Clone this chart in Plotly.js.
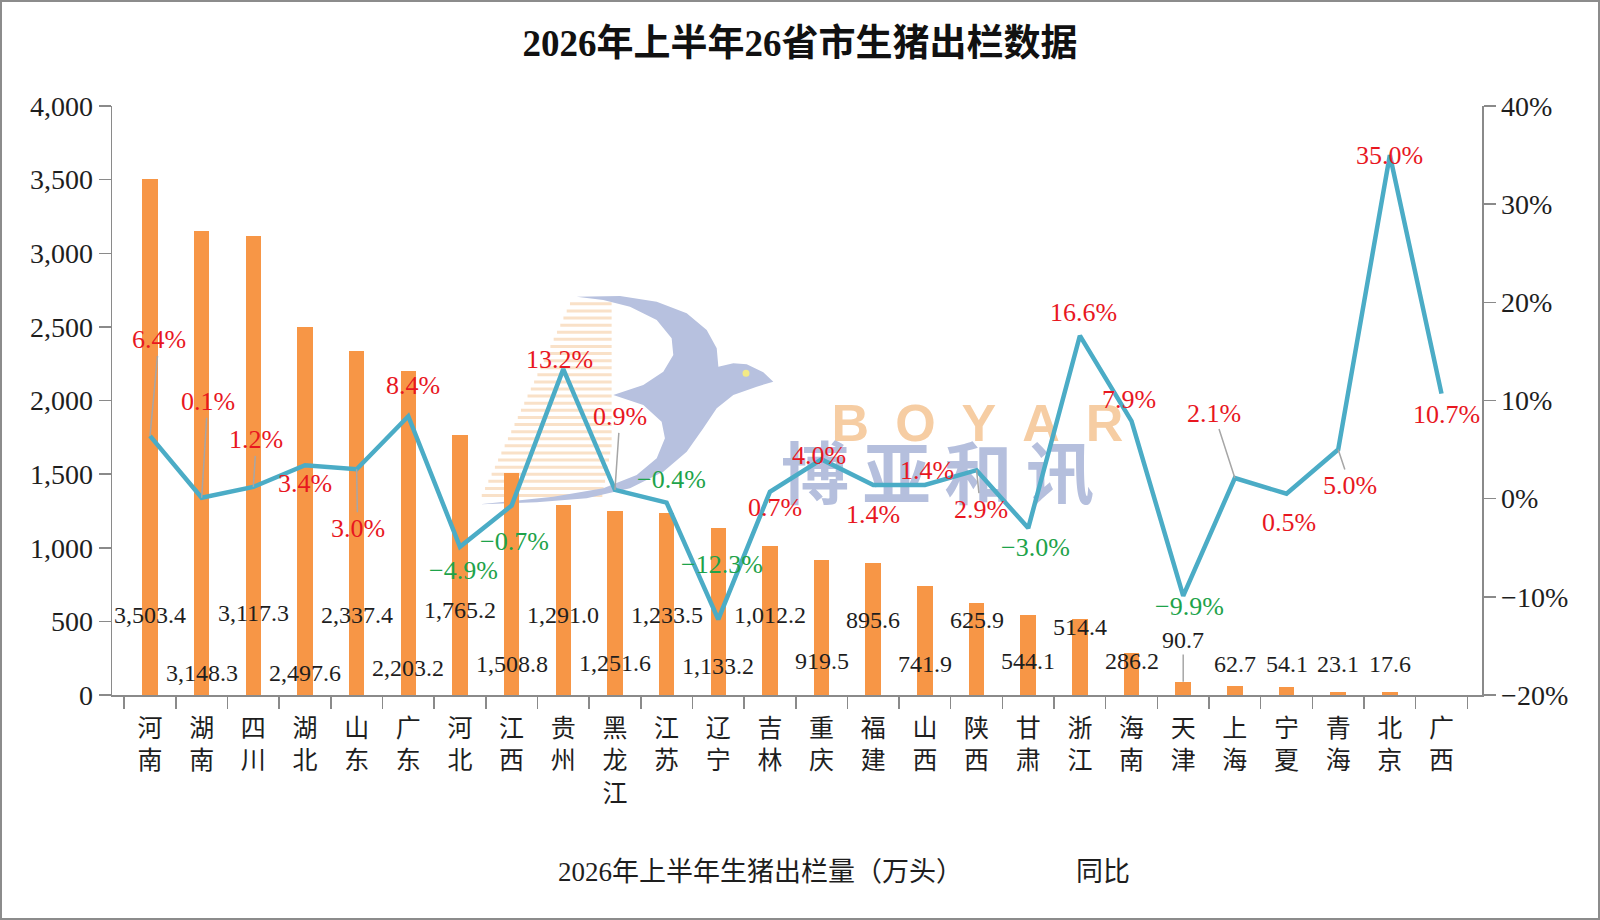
<!DOCTYPE html>
<html>
<head>
<meta charset="utf-8">
<script src="https://cdn.plot.ly/plotly-3.0.1.min.js"></script>
<style>
    html, body { margin: 0; padding: 0; background: #ffffff; }
    #chart {
        width: 1600px;
        height: 920px;
        box-sizing: border-box;
        border: 2px solid #8c8c8c;
    }
</style>
</head>
<body>
<div id="chart"></div>
<script>
// Data
const provinces = ['河南', '湖南', '四川', '湖北', '山东', '广东', '河北', '江西', '贵州', '黑龙江',
    '江苏', '辽宁', '吉林', '重庆', '福建', '山西', '陕西', '甘肃', '浙江', '海南',
    '天津', '上海', '宁夏', '青海', '北京', '广西'];

// 2026年上半年生猪出栏量（万头）, 广西 has no value
const hogOutput = [3503.4, 3148.3, 3117.3, 2497.6, 2337.4, 2203.2, 1765.2, 1508.8, 1291.0, 1251.6,
    1233.5, 1133.2, 1012.2, 919.5, 895.6, 741.9, 625.9, 544.1, 514.4, 286.2,
    90.7, 62.7, 54.1, 23.1, 17.6, null];

// 同比 (%)
const yoyChange = [6.4, 0.1, 1.2, 3.4, 3.0, 8.4, -4.9, -0.7, 13.2, 0.9,
    -0.4, -12.3, 0.7, 4.0, 1.4, 1.4, 2.9, -3.0, 16.6, 7.9,
    -9.9, 2.1, 0.5, 5.0, 35.0, 10.7];

const titleText = '2026年上半年26省市生猪出栏数据';
const barName = '2026年上半年生猪出栏量（万头）';
const lineName = '同比';

// Label placement (like the hand-moved labels of the original)
const barLabelY = [543, 149, 557, 149, 543, 183, 577, 210, 543, 217, 543, 197, 543, 231, 509, 210,
    509, 231, 462, 231, 373, 210, 210, 210, 210, null];
const barLeaders = [20];
const pctLabelOffset = [[9, -96], [6, -96], [3, -47], [0, 18], [1, 59], [5, -31], [4, 24], [3, 36],
    [-4, -10], [5, -73], [5, -23], [4, -55], [5, 16], [-3, -4], [0, 30], [2, -14], [4, 39], [7, 19],
    [4, -23], [-3, -22], [6, 11], [-21, -65], [2, 29], [12, 36], [0, 0], [5, 21]];
const pctLeaders = [0, 1, 2, 4, 9, 16, 21, 23];

const FONT = 'Liberation Serif, Noto Sans CJK SC, serif';
const ORANGE = '#F79646';
const TEAL = '#4BACC6';
const RED = '#E8171F';
const GREEN = '#1EA34A';
const AXIS = '#8a8a8a';
const LEADER = '#a6a6a6';

// plot area in page pixels (used for the watermark logo)
const PLOT = { left: 112, right: 1482, top: 106, bottom: 695 };
const px = x => (x - PLOT.left) / (PLOT.right - PLOT.left);
const py = y => (PLOT.bottom - y) / (PLOT.bottom - PLOT.top);

function fmtNumber(v) {
    return v.toLocaleString('en-US', { minimumFractionDigits: 1, maximumFractionDigits: 1 });
}

function fmtPct(v) {
    return (v < 0 ? '\u2212' : '') + Math.abs(v).toFixed(1) + '%';
}

// Watermark logo (bird + BOYAR text), drawn below the data
function logoShapes() {
    const toPage = ([dx, dy]) => [470 + dx / 3, 285 + dy / 3];
    const bird = [[320, 35], [450, 33], [560, 50], [650, 85], [710, 135], [740, 190], [745, 245],
        [790, 235], [830, 238], [880, 262], [910, 290], [860, 305], [790, 330], [740, 370],
        [700, 430], [650, 500], [580, 560], [480, 610], [350, 640], [200, 652], [30, 658],
        [250, 635], [400, 610], [500, 570], [560, 520], [585, 460], [575, 410], [520, 360],
        [430, 330], [520, 300], [580, 260], [610, 210], [605, 160], [560, 105], [480, 65],
        [400, 45]];
    const birdPath = bird.map(toPage)
        .map(([x, y], i) => (i === 0 ? 'M' : 'L') + px(x).toFixed(4) + ',' + py(y).toFixed(4))
        .join(' ') + ' Z';

    // stripes to the left of the bird
    let stripes = '';
    for (let k = 0; k < 28; k++) {
        const yTop = 52 + k * 21.3;
        const xl = 300 - k * 9.8;
        const xr = 425 - Math.max(0, k - 20) * 4;
        const [x0, y0] = toPage([xl, yTop]);
        const [x1, y1] = toPage([xr, yTop + 9]);
        stripes += `M${px(x0).toFixed(4)},${py(y0).toFixed(4)} L${px(x1).toFixed(4)},${py(y0).toFixed(4)} ` +
            `L${px(x1).toFixed(4)},${py(y1).toFixed(4)} L${px(x0).toFixed(4)},${py(y1).toFixed(4)} Z `;
    }

    const [ex, ey] = toPage([828, 265]);

    return [
        { type: 'path', xref: 'paper', yref: 'paper', layer: 'below', path: stripes,
          fillcolor: 'rgba(244,200,155,0.55)', line: { width: 0 } },
        { type: 'path', xref: 'paper', yref: 'paper', layer: 'below', path: birdPath,
          fillcolor: '#B7C1DF', line: { width: 0 } },
        { type: 'circle', xref: 'paper', yref: 'paper', layer: 'below',
          x0: px(ex - 3.5), x1: px(ex + 3.5), y0: py(ey + 3.5), y1: py(ey - 3.5),
          fillcolor: '#F3EA86', line: { width: 0 } },
        { type: 'rect', xref: 'paper', yref: 'paper', layer: 'below',
          x0: px(840), x1: px(1115), y0: py(440), y1: py(396),
          fillcolor: 'rgba(0,0,0,0)', line: { width: 0 },
          label: { text: 'B\u2002O\u2002Y\u2002A\u2002R', textposition: 'middle center',
                   font: { family: 'Liberation Sans, DejaVu Sans, sans-serif', size: 52, weight: 'bold', color: '#F6CDA3' } } },
        { type: 'rect', xref: 'paper', yref: 'paper', layer: 'below',
          x0: px(755), x1: px(1120), y0: py(520), y1: py(440),
          fillcolor: 'rgba(0,0,0,0)', line: { width: 0 },
          label: { text: '博\u2009亚\u2009和\u2009讯', textposition: 'middle center',
                   font: { family: 'Noto Sans CJK SC', size: 68, weight: 'bold', color: '#B5BFDD' } } }
    ];
}

function buildAnnotations() {
    const notes = [];

    // bar value labels
    hogOutput.forEach((v, i) => {
        if (v === null) return;
        const leader = barLeaders.includes(i);
        notes.push({
            x: provinces[i], y: v, xref: 'x', yref: 'y',
            ax: 0, ay: barLabelY[i], ayref: 'y',
            text: fmtNumber(v),
            showarrow: true, arrowhead: 0, arrowwidth: 1.5, standoff: 0,
            arrowcolor: leader ? LEADER : 'rgba(0,0,0,0)',
            font: { family: FONT, size: 24, color: '#1e1e1e' }
        });
    });

    // year-on-year labels
    yoyChange.forEach((v, i) => {
        const [dx, dy] = pctLabelOffset[i];
        const leader = pctLeaders.includes(i);
        notes.push({
            x: provinces[i], y: v, xref: 'x', yref: 'y2',
            ax: dx, ay: dy,
            text: fmtPct(v),
            showarrow: true, arrowhead: 0, arrowwidth: 1.5, standoff: 0,
            arrowcolor: leader ? LEADER : 'rgba(0,0,0,0)',
            font: { family: FONT, size: 26, color: v < 0 ? GREEN : RED }
        });
    });

    // legend (the original shows the names only)
    notes.push({
        xref: 'paper', yref: 'paper', x: px(760), y: py(872),
        xanchor: 'center', yanchor: 'middle',
        text: barName, showarrow: false,
        font: { family: FONT, size: 27, color: '#1e1e1e' }
    });
    notes.push({
        xref: 'paper', yref: 'paper', x: px(1103), y: py(872),
        xanchor: 'center', yanchor: 'middle',
        text: lineName, showarrow: false,
        font: { family: FONT, size: 27, color: '#1e1e1e' }
    });

    return notes;
}

function renderChart() {
    const barTrace = {
        x: provinces,
        y: hogOutput,
        type: 'bar',
        name: barName,
        width: 0.3,
        marker: { color: ORANGE },
        hoverinfo: 'skip'
    };

    const lineTrace = {
        x: provinces,
        y: yoyChange,
        type: 'scatter',
        mode: 'lines',
        name: lineName,
        yaxis: 'y2',
        line: { color: TEAL, width: 4.5 },
        hoverinfo: 'skip'
    };

    const axisCommon = {
        showgrid: false,
        zeroline: false,
        showline: true,
        linecolor: AXIS,
        linewidth: 1.5,
        ticks: 'outside',
        ticklen: 12,
        tickwidth: 1.5,
        tickcolor: AXIS,
        tickfont: { family: FONT, size: 28, color: '#1e1e1e' }
    };

    const layout = {
        width: 1596,
        height: 916,
        paper_bgcolor: '#ffffff',
        plot_bgcolor: '#ffffff',
        font: { family: FONT, color: '#1e1e1e' },
        title: {
            text: titleText,
            x: 0.5,
            xref: 'container',
            y: 1 - 41 / 916,
            yref: 'container',
            yanchor: 'middle',
            font: { family: FONT, size: 37, weight: 'bold', color: '#111111' }
        },
        margin: { l: 110, r: 116, t: 104, b: 223 },
        showlegend: false,
        bargap: 0,
        xaxis: Object.assign({}, axisCommon, {
            type: 'category',
            tickson: 'boundaries',
            tickvals: provinces,
            ticktext: provinces.map(p => p.split('').join('<br>')),
            ticklabelstandoff: 10,
            tickfont: { family: FONT, size: 25, color: '#1e1e1e' }
        }),
        yaxis: Object.assign({}, axisCommon, {
            range: [0, 4000],
            dtick: 500,
            tickformat: ','
        }),
        yaxis2: Object.assign({}, axisCommon, {
            overlaying: 'y',
            side: 'right',
            range: [-20, 40],
            dtick: 10,
            ticksuffix: '%'
        }),
        shapes: logoShapes(),
        annotations: buildAnnotations()
    };

    Plotly.newPlot('chart', [barTrace, lineTrace], layout, { displayModeBar: false, staticPlot: true });
}

renderChart();
</script>
</body>
</html>
